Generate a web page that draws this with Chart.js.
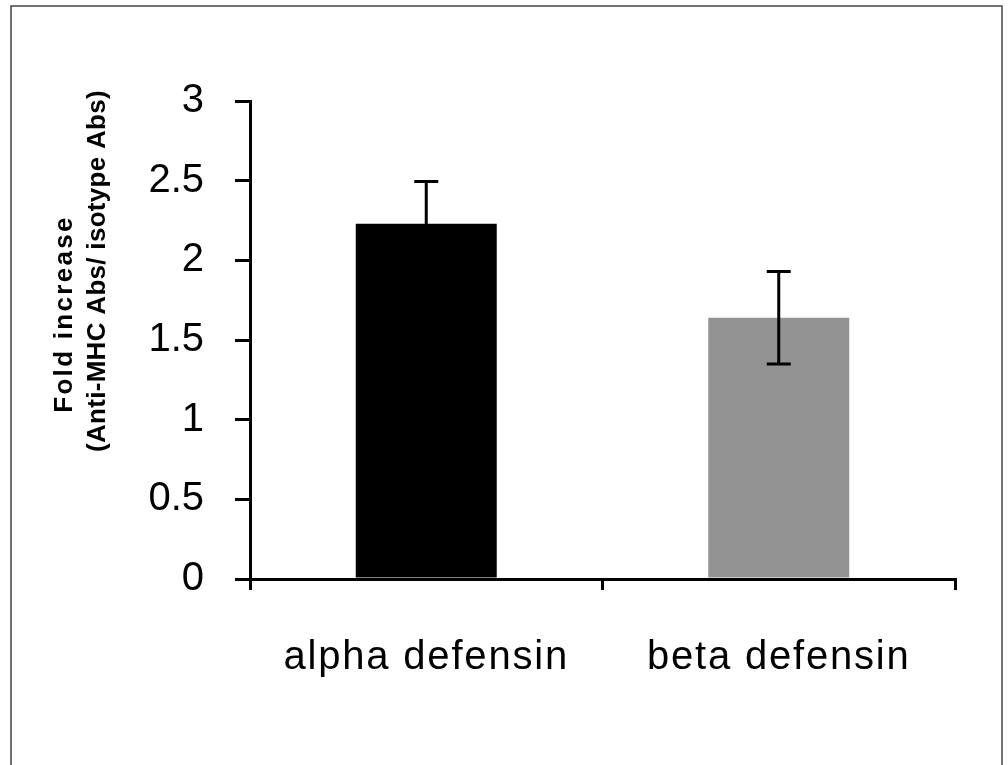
<!DOCTYPE html>
<html>
<head>
<meta charset="utf-8">
<script src="https://cdn.jsdelivr.net/npm/chart.js@4/dist/chart.umd.min.js"></script>
<style>
  html, body { margin: 0; padding: 0; background: #fff; }
  #wrap { width: 1008px; height: 765px; }
</style>
</head>
<body>
<div id="wrap"><canvas id="foldChart" width="1008" height="765"></canvas></div>
<script>
const categories = ["alpha defensin", "beta defensin"];
const foldValues = [2.23, 1.64];
const errorValues = [0.265, 0.29];
const barColors = ["#000000", "#939393"];
const yTicks = [0, 0.5, 1, 1.5, 2, 2.5, 3];
const yTitle = ["Fold increase", "(Anti-MHC Abs/ isotype Abs)"];

// white page with a thin frame round it
const framePlugin = {
  id: "frame",
  beforeDraw(chart) {
    const ctx = chart.ctx;
    ctx.save();
    ctx.fillStyle = "#ffffff";
    ctx.fillRect(0, 0, chart.width, chart.height);
    ctx.strokeStyle = "#444444";
    ctx.lineWidth = 1.5;
    ctx.strokeRect(11, 6, 991, 800);
    ctx.restore();
  },
  afterDraw(chart) {
    // y axis title, two rotated lines, drawn by hand so each line sits where it does in the figure
    const ctx = chart.ctx;
    ctx.letterSpacing = "0px";
    ctx.save();
    ctx.fillStyle = "#000";
    ctx.font = "bold 26px 'Liberation Sans', Arial";
    ctx.textAlign = "center";
    ctx.textBaseline = "middle";
    ctx.translate(65, 314);
    ctx.rotate(-Math.PI / 2);
    ctx.letterSpacing = "2.3px";
    ctx.fillText(yTitle[0], 0, 0);
    ctx.restore();
    ctx.save();
    ctx.fillStyle = "#000";
    ctx.font = "bold 26px 'Liberation Sans', Arial";
    ctx.textAlign = "center";
    ctx.textBaseline = "middle";
    ctx.translate(98, 271);
    ctx.rotate(-Math.PI / 2);
    ctx.letterSpacing = "0.3px";
    ctx.fillText(yTitle[1], 0, 0);
    ctx.restore();
  }
};

// error bars, placed through the y scale
const errorBarPlugin = {
  id: "errorBars",
  afterDatasetsDraw(chart) {
    const ctx = chart.ctx;
    const y = chart.scales.y;
    const meta = chart.getDatasetMeta(0);
    ctx.save();
    ctx.strokeStyle = "#000";
    ctx.lineWidth = 3;
    meta.data.forEach((bar, i) => {
      const x = bar.x;
      const top = y.getPixelForValue(foldValues[i] + errorValues[i]);
      const bottom = y.getPixelForValue(foldValues[i] - errorValues[i]);
      ctx.beginPath();
      ctx.moveTo(x, top);
      ctx.lineTo(x, bottom);
      ctx.moveTo(x - 12, top);
      ctx.lineTo(x + 12, top);
      ctx.moveTo(x - 12, bottom);
      ctx.lineTo(x + 12, bottom);
      ctx.stroke();
    });
    ctx.restore();
    // the category labels (ticks.z = 1) come next and are spaced out a little
    ctx.letterSpacing = "1.8px";
  }
};

const chart = new Chart(document.getElementById("foldChart"), {
  type: "bar",
  data: {
    labels: categories,
    datasets: [{
      data: foldValues,
      backgroundColor: barColors,
      borderWidth: 0,
      barPercentage: 0.4,
      categoryPercentage: 1.0
    }]
  },
  options: {
    responsive: false,
    animation: false,
    layout: { padding: { left: 0, right: 53, top: 101, bottom: 0 } },
    plugins: { legend: { display: false }, tooltip: { enabled: false } },
    scales: {
      x: {
        grid: { display: true, drawOnChartArea: false, drawTicks: true, tickLength: 11, color: "#000", lineWidth: 3, offset: true },
        border: { display: true, color: "#000", width: 3 },
        ticks: { z: 1, color: "#000", font: { family: "Liberation Sans, Arial", size: 40 }, padding: 44, maxRotation: 0 },
        afterFit(scale) { scale.height = 186; }
      },
      y: {
        min: 0,
        max: 3,
        afterBuildTicks(scale) { scale.ticks = yTicks.map(v => ({ value: v })); },
        grid: { display: true, drawOnChartArea: false, drawTicks: true, tickLength: 15, color: "#000", lineWidth: 3 },
        border: { display: true, color: "#000", width: 3 },
        ticks: {
          color: "#000",
          font: { family: "Liberation Sans, Arial", size: 40 },
          padding: 31,
          callback: v => String(v)
        },
        afterFit(scale) { scale.width = 250; }
      }
    }
  },
  plugins: [framePlugin, errorBarPlugin]
});
</script>
</body>
</html>
